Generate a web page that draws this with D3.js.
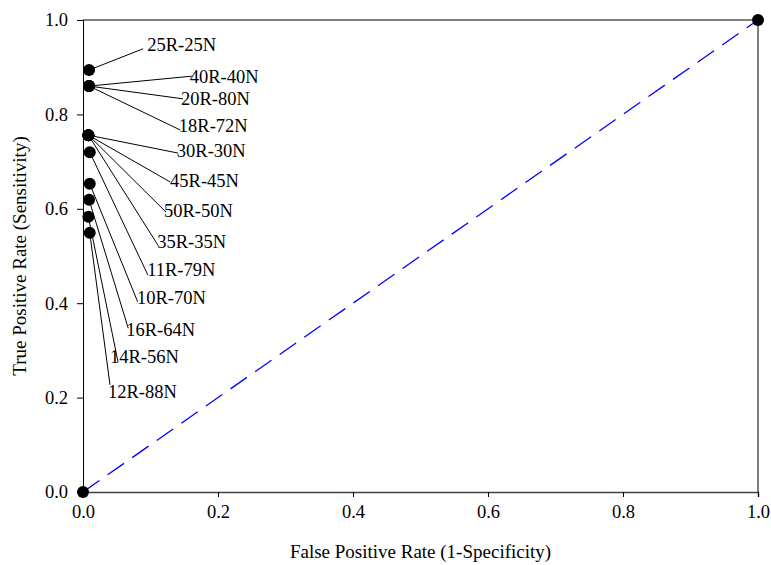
<!DOCTYPE html>
<html>
<head>
  <meta charset="UTF-8">
  <style>
    body { margin: 0; background: white; }
    svg { display: block; font-family: "Liberation Serif", "Times New Roman", serif; }
    .tick text { font-family: "Liberation Serif", serif; font-size: 18.5px; fill: black; }
    .label { font-size: 18.5px; fill: black; }
    .title { font-size: 19px; fill: black; }
  </style>
</head>
<body>
<svg></svg>
<script src="https://d3js.org/d3.v7.min.js"></script>
<script>
// ROC points (combinations)
let names = ["25R-25N", "40R-40N", "20R-80N", "18R-72N", "30R-30N", "45R-45N", "50R-50N",
             "35R-35N", "11R-79N", "10R-70N", "16R-64N", "14R-56N", "12R-88N"];
let fpr = [0.009, 0.009, 0.009, 0.009, 0.008, 0.008, 0.008, 0.008, 0.010, 0.010, 0.009, 0.008, 0.010];
let tpr = [0.894, 0.860, 0.860, 0.860, 0.756, 0.756, 0.756, 0.756, 0.720, 0.653, 0.619, 0.583, 0.549];

// where each leader line ends and where its label sits (data units)
let lineEndX = [0.089, 0.161, 0.148, 0.144, 0.141, 0.129, 0.123, 0.111, 0.096, 0.081, 0.067, 0.052, 0.040];
let lineEndY = [0.939, 0.881, 0.833, 0.767, 0.718, 0.657, 0.593, 0.523, 0.460, 0.403, 0.347, 0.275, 0.227];
let textX = [0.095, 0.158, 0.145, 0.142, 0.139, 0.129, 0.120, 0.110, 0.095, 0.080, 0.064, 0.040, 0.037];
let textY = [0.934, 0.867, 0.820, 0.763, 0.710, 0.646, 0.583, 0.517, 0.458, 0.398, 0.331, 0.273, 0.199];

// end points of the curve
let extraX = [0, 1];
let extraY = [0, 1];

let ticks = [0, 0.2, 0.4, 0.6, 0.8, 1.0];

let W = 771, H = 565;
let margin = {left: 83, top: 20, right: 13, bottom: 73};
let w = W - margin.left - margin.right, h = H - margin.top - margin.bottom;

let svg = d3.select("svg").attr("width", W).attr("height", H);
let g = svg.append("g").attr("transform", `translate(${margin.left},${margin.top})`);

let x = d3.scaleLinear().domain([0, 1]).range([0, w]);
let y = d3.scaleLinear().domain([0, 1]).range([h, 0]);

// frame top and right
g.append("line").attr("x1", 0).attr("x2", w).attr("y1", 0).attr("y2", 0)
  .attr("stroke", "black").attr("stroke-width", 1);
g.append("line").attr("x1", w).attr("x2", w).attr("y1", 0).attr("y2", h)
  .attr("stroke", "black").attr("stroke-width", 1);

// axes
let xAxis = g.append("g").attr("transform", `translate(0,${h})`)
  .call(d3.axisBottom(x).tickValues(ticks).tickFormat(d3.format(".1f")).tickSize(5).tickPadding(8));
xAxis.select(".domain").attr("stroke", "#404040").attr("stroke-width", 1.5);
xAxis.selectAll(".tick line").attr("stroke", "black");

let yAxis = g.append("g")
  .call(d3.axisLeft(y).tickValues(ticks).tickFormat(d3.format(".1f")).tickSize(6).tickPadding(9));
yAxis.select(".domain").attr("stroke", "black").attr("stroke-width", 1);
yAxis.selectAll(".tick line").attr("stroke", "black");

// let the axes use the page font
xAxis.attr("font-family", null).attr("font-size", null);
yAxis.attr("font-family", null).attr("font-size", null);

// chance diagonal
g.append("line")
  .attr("x1", x(0)).attr("y1", y(0)).attr("x2", x(1)).attr("y2", y(1))
  .attr("stroke", "#0000ff").attr("stroke-width", 1.3)
  .attr("stroke-dasharray", "20,10");

// leader lines
g.selectAll(".leader")
  .data(names)
  .enter()
  .append("line")
  .attr("class", "leader")
  .attr("x1", (d, i) => x(fpr[i]))
  .attr("y1", (d, i) => y(tpr[i]))
  .attr("x2", (d, i) => x(lineEndX[i]))
  .attr("y2", (d, i) => y(lineEndY[i]))
  .attr("stroke", "black")
  .attr("stroke-width", 1);

// labels
g.selectAll(".label")
  .data(names)
  .enter()
  .append("text")
  .attr("class", "label")
  .attr("x", (d, i) => x(textX[i]))
  .attr("y", (d, i) => y(textY[i]))
  .text(d => d);

// points
let allX = fpr.concat(extraX), allY = tpr.concat(extraY);
g.selectAll(".pt")
  .data(allX)
  .enter()
  .append("circle")
  .attr("class", "pt")
  .attr("cx", d => x(d))
  .attr("cy", (d, i) => y(allY[i]))
  .attr("r", 6)
  .attr("fill", "black");

// axis titles
svg.append("text").attr("class", "title")
  .attr("x", margin.left + w / 2).attr("y", 558)
  .attr("text-anchor", "middle")
  .text("False Positive Rate (1-Specificity)");

svg.append("text").attr("class", "title")
  .attr("transform", `translate(26,${margin.top + h / 2}) rotate(-90)`)
  .attr("text-anchor", "middle")
  .text("True Positive Rate (Sensitivity)");
</script>
</body>
</html>
